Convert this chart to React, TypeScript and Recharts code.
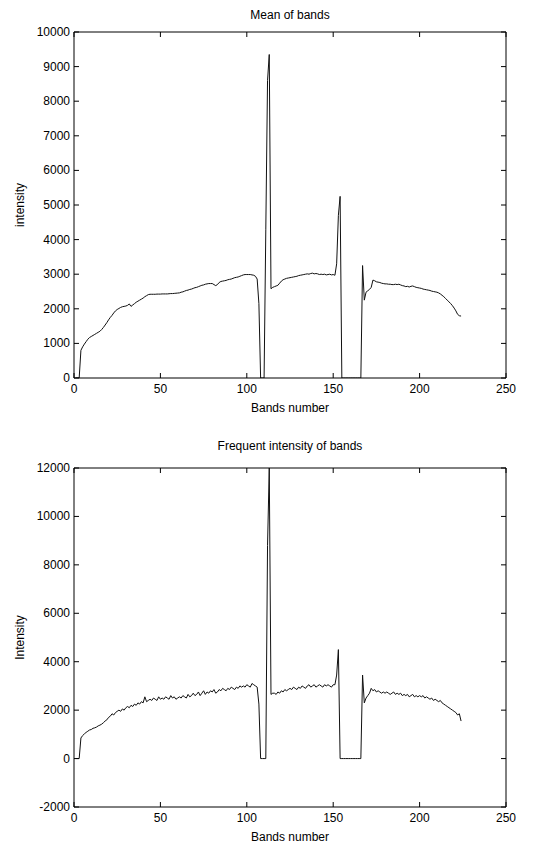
import { LineChart, Line, XAxis, YAxis } from 'recharts'

// band index is just position + 1 (bands 1..224)
const meanOfBands = [
  0, 0, 0, 800, 900, 980, 1050, 1120, 1170, 1200,
  1230, 1260, 1290, 1320, 1350, 1400, 1460, 1530, 1600, 1680,
  1750, 1810, 1880, 1940, 1980, 2010, 2040, 2060, 2070, 2080,
  2100, 2140, 2070, 2110, 2150, 2190, 2220, 2250, 2280, 2310,
  2350, 2380, 2410, 2420, 2420, 2420, 2420, 2425, 2425, 2425,
  2430, 2430, 2430, 2430, 2435, 2440, 2440, 2445, 2450, 2455,
  2460, 2480, 2490, 2510, 2530, 2540, 2560, 2570, 2590, 2610,
  2620, 2640, 2660, 2680, 2690, 2710, 2720, 2730, 2730, 2730,
  2700, 2670, 2700, 2760, 2790, 2800, 2810, 2820, 2840, 2850,
  2860, 2880, 2900, 2910, 2920, 2940, 2960, 2980, 2990, 2990,
  2990, 2990, 2980, 2970, 2940, 2860, 2150, 0, 0, 0,
  4300, 8600, 9350, 2580, 2620, 2640, 2660, 2680, 2740, 2800,
  2840, 2860, 2880, 2890, 2900, 2910, 2920, 2930, 2940, 2960,
  2970, 2980, 2990, 3000, 3010, 3000, 3020, 3030, 3010, 3020,
  3010, 2990, 3000, 2990, 3000, 2980, 2990, 3000, 2980, 2990,
  2970, 3300, 4700, 5250, 0, 0, 0, 0, 0, 0,
  0, 0, 0, 0, 0, 0, 3250, 2250, 2480, 2520,
  2560, 2620, 2830, 2810, 2780, 2770, 2760, 2740, 2730, 2720,
  2720, 2710, 2710, 2700, 2700, 2710, 2700, 2710, 2690, 2670,
  2660, 2640, 2650, 2630, 2650, 2660, 2640, 2620, 2610, 2600,
  2590, 2570, 2560, 2550, 2540, 2530, 2510, 2500, 2490, 2480,
  2460, 2430, 2390, 2350, 2300, 2250, 2200, 2150, 2090, 2020,
  1940, 1840, 1800, 1790,
]

const frequentIntensity = [
  0, 0, 0, 850, 950, 1020, 1080, 1130, 1180, 1200,
  1250, 1270, 1300, 1350, 1380, 1420, 1480, 1550, 1600, 1700,
  1750, 1850, 1800, 1900, 1950, 2000, 1950, 2050, 2000, 2100,
  2150, 2100, 2200, 2150, 2250, 2200, 2300, 2250, 2350, 2300,
  2550, 2350, 2400, 2450, 2400, 2500, 2450, 2400, 2550, 2450,
  2500, 2450, 2550, 2500, 2450, 2600, 2500, 2550, 2450, 2500,
  2550, 2500, 2600, 2550, 2500, 2650, 2550, 2600, 2700, 2600,
  2650, 2750, 2600, 2700, 2800, 2650, 2750, 2700, 2800, 2750,
  2850, 2700, 2750, 2850, 2800, 2900, 2850, 2800, 2900, 2850,
  2950, 2900, 2850, 2950, 2900, 3000, 2950, 3000, 2950, 3050,
  3000, 2950, 3100, 3050, 3000, 2950, 2250, 0, 0, 0,
  0, 8800, 12000, 2650, 2700, 2700, 2650, 2750, 2700, 2800,
  2750, 2850, 2800, 2850, 2900, 2850, 2950, 2900, 2850, 2950,
  2900, 3000, 2950, 2900, 3000, 3050, 2950, 3000, 3050, 2950,
  3000, 3050, 3000, 2950, 3050, 3000, 3050, 3000, 2950, 3050,
  3050, 3450, 4500, 0, 0, 0, 0, 0, 0, 0,
  0, 0, 0, 0, 0, 0, 3450, 2300, 2500, 2600,
  2700, 2900, 2800, 2850, 2750, 2800, 2750, 2700, 2750, 2700,
  2750, 2700, 2650, 2700, 2750, 2650, 2700, 2650, 2700, 2600,
  2650, 2600, 2650, 2550, 2600, 2650, 2550, 2600, 2550, 2600,
  2550, 2600, 2500, 2550, 2500, 2450, 2500, 2400, 2450, 2400,
  2350, 2400, 2300, 2250, 2200, 2150, 2100, 2050, 2000, 1950,
  1900, 1800, 1850, 1550,
]

const bandTicks = [0, 50, 100, 150, 200, 250]
const meanTicks = [0, 1000, 2000, 3000, 4000, 5000, 6000, 7000, 8000, 9000, 10000]
const freqTicks = [-2000, 0, 2000, 4000, 6000, 8000, 10000, 12000]

const FONT = '"Liberation Sans", Arial, sans-serif'

const meanData = meanOfBands.map((v, i) => ({ band: i + 1, value: v }))
const freqData = frequentIntensity.map((v, i) => ({ band: i + 1, value: v }))

function BottomTick(props: any) {
  const { x, y, payload } = props
  return (
    <g>
      <line x1={x} y1={y} x2={x} y2={y - 5} stroke="#000" />
      <text x={x} y={y + 15} textAnchor="middle" fontSize={12} fontFamily={FONT} fill="#000">
        {payload.value}
      </text>
    </g>
  )
}

function TopTick(props: any) {
  const { x, y } = props
  return <line x1={x} y1={y} x2={x} y2={y + 5} stroke="#000" />
}

function LeftTick(props: any) {
  const { x, y, payload } = props
  return (
    <g>
      <line x1={x} y1={y} x2={x + 5} y2={y} stroke="#000" />
      <text x={x - 4} y={y + 4} textAnchor="end" fontSize={12} fontFamily={FONT} fill="#000">
        {payload.value}
      </text>
    </g>
  )
}

function RightTick(props: any) {
  const { x, y } = props
  return <line x1={x} y1={y} x2={x - 5} y2={y} stroke="#000" />
}

interface PanelProps {
  data: { band: number; value: number }[]
  yTicks: number[]
  yLabel: string
  height: number
  top: number
  bottom: number
  xLabelOffset: number
}

function Panel({ data, yTicks, yLabel, height, top, bottom, xLabelOffset }: PanelProps) {
  const domain = [yTicks[0], yTicks[yTicks.length - 1]]
  return (
    <LineChart width={533} height={height} data={data} margin={{ top: top - 1, right: 26, left: 0, bottom: 0 }}>
      <XAxis
        dataKey="band"
        type="number"
        domain={[0, 250]}
        ticks={bandTicks}
        interval={0}
        height={bottom}
        tickSize={0}
        tickMargin={0}
        tick={<BottomTick />}
        axisLine={{ stroke: '#000' }}
        label={{
          value: 'Bands number',
          position: 'insideBottom',
          offset: xLabelOffset,
          style: { fontSize: 12, fontFamily: FONT, fill: '#000' },
        }}
      />
      <XAxis
        xAxisId="top"
        orientation="top"
        dataKey="band"
        type="number"
        domain={[0, 250]}
        ticks={bandTicks}
        interval={0}
        height={1}
        tickSize={0}
        tickMargin={0}
        tick={<TopTick />}
        axisLine={{ stroke: '#000' }}
      />
      <YAxis
        type="number"
        domain={domain}
        ticks={yTicks}
        interval={0}
        width={74}
        tickSize={0}
        tickMargin={0}
        tick={<LeftTick />}
        axisLine={{ stroke: '#000' }}
        allowDataOverflow
        label={{
          value: yLabel,
          angle: -90,
          position: 'insideLeft',
          offset: 20,
          style: { textAnchor: 'middle', fontSize: 12, fontFamily: FONT, fill: '#000' },
        }}
      />
      <YAxis
        yAxisId="right"
        orientation="right"
        type="number"
        domain={domain}
        ticks={yTicks}
        interval={0}
        width={1}
        tickSize={0}
        tickMargin={0}
        tick={<RightTick />}
        axisLine={{ stroke: '#000' }}
        allowDataOverflow
      />
      {/* invisible copy bound to the mirror axes so they get drawn */}
      <Line
        xAxisId="top"
        yAxisId="right"
        type="linear"
        dataKey="value"
        stroke="none"
        dot={false}
        activeDot={false}
        isAnimationActive={false}
      />
      <Line
        type="linear"
        dataKey="value"
        stroke="#111"
        strokeWidth={1}
        dot={false}
        activeDot={false}
        isAnimationActive={false}
      />
    </LineChart>
  )
}

const titleStyle = {
  position: 'absolute' as const,
  left: 74,
  width: 432,
  textAlign: 'center' as const,
  fontFamily: FONT,
  fontSize: 12,
  lineHeight: '14px',
  color: '#000',
}

export default function App() {
  return (
    <div style={{ position: 'absolute', left: 0, top: 0, width: 533, height: 843, background: '#fff' }}>
      <div style={{ ...titleStyle, top: 8 }}>Mean of bands</div>
      <div style={{ position: 'absolute', left: 0, top: 0 }}>
        <Panel data={meanData} yTicks={meanTicks} yLabel="intensity" height={420} top={32} bottom={42} xLabelOffset={8} />
      </div>
      <div style={{ ...titleStyle, top: 439 }}>Frequent intensity of bands</div>
      <div style={{ position: 'absolute', left: 0, top: 430 }}>
        <Panel data={freqData} yTicks={freqTicks} yLabel="Intensity" height={413} top={38} bottom={36} xLabelOffset={2} />
      </div>
    </div>
  )
}
